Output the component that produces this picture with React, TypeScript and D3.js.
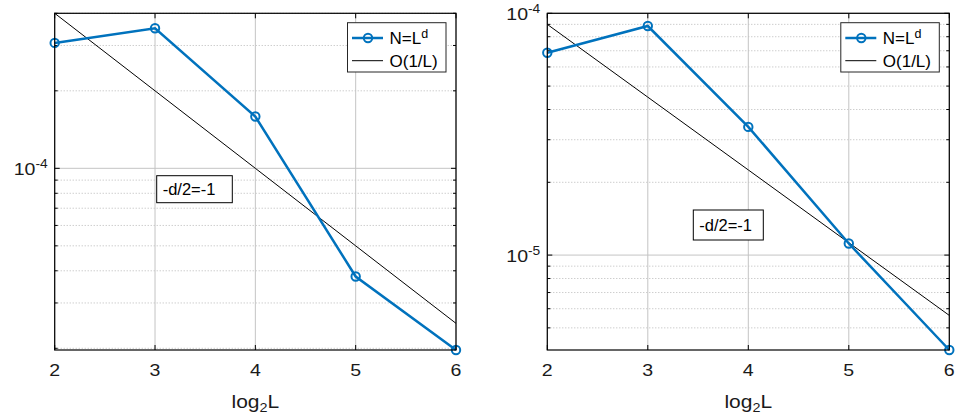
import React, { useEffect, useRef } from 'react';
import * as d3 from 'd3';

const log2L = [2, 3, 4, 5, 6];

// left panel
const errLeft = [3.07e-4, 3.5e-4, 1.59e-4, 3.8e-5, 1.97e-5];
const refLeft = [4e-4, 2e-4, 1e-4, 5e-5, 2.5e-5];
const yDomainLeft = [1.97e-5, 4e-4];
const majorLeft = [1e-4];
const majorLabelsLeft = ['-4'];

// right panel
const errRight = [6.87e-5, 8.86e-5, 3.39e-5, 1.117e-5, 4.05e-6];
const refRight = [9.0e-5, 4.5e-5, 2.25e-5, 1.125e-5, 5.63e-6];
const yDomainRight = [4.05e-6, 1e-4];
const majorRight = [1e-5, 1e-4];
const majorLabelsRight = ['-5', '-4'];

const legendLabels = ['N=L', 'O(1/L)'];
const annotation = '-d/2=-1';

const BLUE = '#0072BD';
const FONT = '"Liberation Sans", Arial, Helvetica, sans-serif';

const Panel = ({ left, right, err, ref1, yDomain, major, majorLabels, note }) => {
  const svgRef = useRef(null);

  useEffect(() => {
    const svg = d3.select(svgRef.current);
    svg.selectAll('*').remove();

    const top = 13.3, bottom = 350;
    const x = d3.scaleLinear().domain([2, 6]).range([left, right]);
    const y = d3.scaleLog().domain(yDomain).range([bottom, top]);

    const g = svg.append('g');

    // minor grid (2..9 per decade)
    const minor = [];
    for (let e = -7; e <= -3; e++) {
      for (let m = 2; m <= 9; m++) {
        const v = m * Math.pow(10, e);
        if (v >= yDomain[0] * 0.999 && v <= yDomain[1] * 1.001) minor.push(v);
      }
    }
    g.selectAll('.minor').data(minor).enter().append('line')
      .attr('x1', left).attr('x2', right)
      .attr('y1', d => y(d)).attr('y2', d => y(d))
      .attr('stroke', '#b8b8b8').attr('stroke-width', 1)
      .attr('stroke-dasharray', '1,2');

    // major grid
    g.selectAll('.majory').data(major).enter().append('line')
      .attr('x1', left).attr('x2', right)
      .attr('y1', d => y(d)).attr('y2', d => y(d))
      .attr('stroke', '#c4c4c4').attr('stroke-width', 1);
    g.selectAll('.majorx').data(log2L).enter().append('line')
      .attr('x1', d => x(d)).attr('x2', d => x(d))
      .attr('y1', top).attr('y2', bottom)
      .attr('stroke', '#c4c4c4').attr('stroke-width', 1);

    // ticks
    const tl = 5, tm = 3;
    log2L.forEach(d => {
      g.append('line').attr('x1', x(d)).attr('x2', x(d)).attr('y1', bottom).attr('y2', bottom - tl).attr('stroke', '#000');
      g.append('line').attr('x1', x(d)).attr('x2', x(d)).attr('y1', top).attr('y2', top + tl).attr('stroke', '#000');
    });
    major.forEach(d => {
      g.append('line').attr('x1', left).attr('x2', left + tl).attr('y1', y(d)).attr('y2', y(d)).attr('stroke', '#000');
      g.append('line').attr('x1', right).attr('x2', right - tl).attr('y1', y(d)).attr('y2', y(d)).attr('stroke', '#000');
    });
    minor.forEach(d => {
      g.append('line').attr('x1', left).attr('x2', left + tm).attr('y1', y(d)).attr('y2', y(d)).attr('stroke', '#000');
      g.append('line').attr('x1', right).attr('x2', right - tm).attr('y1', y(d)).attr('y2', y(d)).attr('stroke', '#000');
    });

    // reference line
    const line = d3.line().x((d, i) => x(log2L[i])).y(d => y(d));
    g.append('path').datum(ref1).attr('fill', 'none').attr('stroke', '#000')
      .attr('stroke-width', 1).attr('d', line);

    // data line
    g.append('path').datum(err).attr('fill', 'none').attr('stroke', BLUE)
      .attr('stroke-width', 2.5).attr('d', line);
    g.selectAll('.mk').data(err).enter().append('circle')
      .attr('cx', (d, i) => x(log2L[i])).attr('cy', d => y(d)).attr('r', 4.2)
      .attr('fill', 'none').attr('stroke', BLUE).attr('stroke-width', 2);

    // axes box
    g.append('rect').attr('x', left).attr('y', top).attr('width', right - left)
      .attr('height', bottom - top).attr('fill', 'none').attr('stroke', '#000').attr('stroke-width', 1.2);

    // x tick labels
    g.selectAll('.xt').data(log2L).enter().append('text')
      .attr('transform', d => `translate(${x(d)},375.5) scale(1.15,1)`).attr('text-anchor', 'middle')
      .attr('font-family', FONT).attr('font-size', 17).attr('fill', '#1a1a1a')
      .text(d => d);

    // y tick labels
    major.forEach((d, i) => {
      const t = g.append('text').attr('transform', `translate(${left - 7},${y(d) + 6.5}) scale(1.15,1)`)
        .attr('text-anchor', 'end').attr('font-family', FONT).attr('font-size', 17).attr('fill', '#1a1a1a');
      t.append('tspan').text('10');
      t.append('tspan').attr('dy', -7).attr('font-size', 12).text(majorLabels[i]);
    });

    // x label
    const xl = g.append('text').attr('transform', `translate(${(left + right) / 2},407.5) scale(1.2,1)`)
      .attr('text-anchor', 'middle').attr('font-family', FONT).attr('font-size', 17.5).attr('fill', '#1a1a1a');
    xl.append('tspan').text('log');
    xl.append('tspan').attr('dy', 4).attr('font-size', 12).text('2');
    xl.append('tspan').attr('dy', -4).text('L');

    // legend
    const lx = right - 108.5, ly = 22.7, lw = 98.5, lh = 49.3;
    g.append('rect').attr('x', lx).attr('y', ly).attr('width', lw).attr('height', lh)
      .attr('fill', '#fff').attr('stroke', '#262626').attr('stroke-width', 1);
    const r1 = 38, r2 = 60.7;
    g.append('line').attr('x1', lx + 4.5).attr('x2', lx + 35.5).attr('y1', r1).attr('y2', r1)
      .attr('stroke', BLUE).attr('stroke-width', 2.5);
    g.append('circle').attr('cx', lx + 20.5).attr('cy', r1).attr('r', 4.2)
      .attr('fill', 'none').attr('stroke', BLUE).attr('stroke-width', 2);
    g.append('line').attr('x1', lx + 4.5).attr('x2', lx + 35.5).attr('y1', r2).attr('y2', r2)
      .attr('stroke', '#000').attr('stroke-width', 1);
    const t1 = g.append('text').attr('x', lx + 42).attr('y', r1 + 6)
      .attr('font-family', FONT).attr('font-size', 17).attr('fill', '#000');
    t1.append('tspan').text(legendLabels[0]);
    t1.append('tspan').attr('dy', -6.5).attr('font-size', 12.5).text('d');
    g.append('text').attr('x', lx + 42).attr('y', r2 + 6)
      .attr('font-family', FONT).attr('font-size', 17).attr('fill', '#000').text(legendLabels[1]);

    // annotation
    g.append('rect').attr('x', note.x).attr('y', note.y).attr('width', note.w).attr('height', note.h)
      .attr('fill', '#fff').attr('stroke', '#000').attr('stroke-width', 1);
    g.append('text').attr('x', note.x + 6).attr('y', note.y + note.h / 2 + 5.8)
      .attr('font-family', FONT).attr('font-size', 16.5).attr('fill', '#000').text(annotation);
  }, []);

  return <g ref={svgRef}></g>;
};

const App = () => (
  <svg width={966} height={415} style={{ position: 'absolute', left: 0, top: 0, background: '#fff' }}>
    <rect width={966} height={415} fill="#fff" />
    <Panel left={54.7} right={456} err={errLeft} ref1={refLeft} yDomain={yDomainLeft}
      major={majorLeft} majorLabels={majorLabelsLeft} note={{ x: 156.7, y: 175.7, w: 75.6, h: 27 }} />
    <Panel left={547.3} right={949.3} err={errRight} ref1={refRight} yDomain={yDomainRight}
      major={majorRight} majorLabels={majorLabelsRight} note={{ x: 693.3, y: 210, w: 70, h: 30 }} />
  </svg>
);

export default App;
